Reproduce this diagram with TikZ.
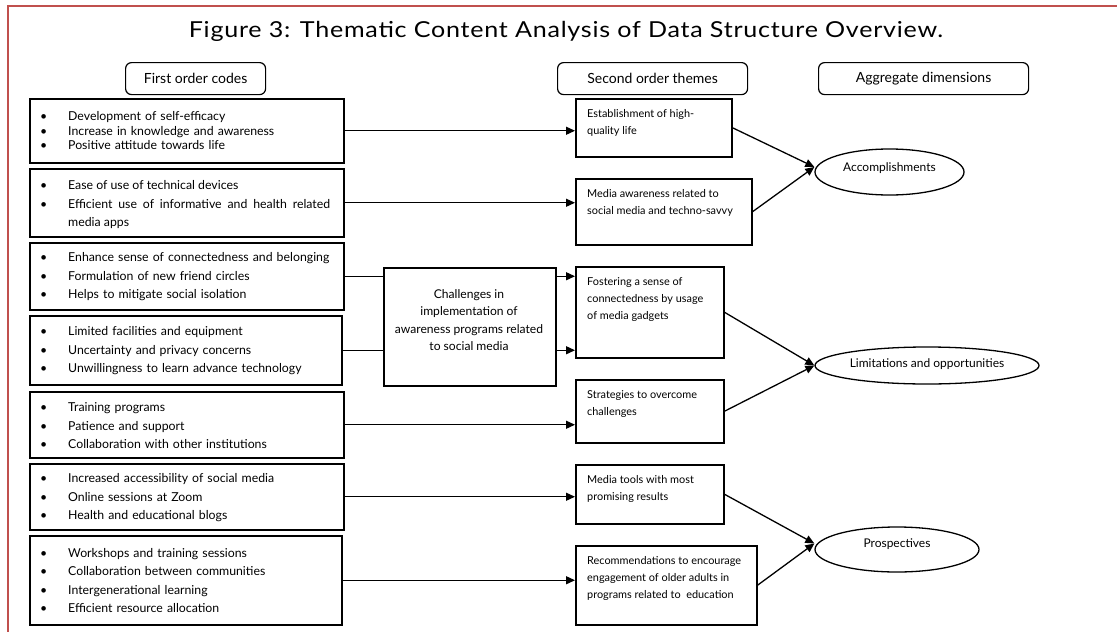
\documentclass[tikz,border=0pt]{standalone}
\usepackage{fontspec}
\setmainfont{Lato}
\usetikzlibrary{arrows.meta,shapes.geometric}
\definecolor{framered}{RGB}{192,80,77}
\newcommand\bul{\leavevmode\llap{\textbullet\hspace{21pt}}}
\begin{document}
\begin{tikzpicture}[x=1pt,y=-1pt,
  box/.style={draw, line width=1.5pt, rectangle, inner sep=0pt, anchor=north west},
  hdr/.style={draw, line width=1.2pt, rounded corners=6pt, inner sep=0pt, anchor=north west, font=\fontsize{14}{16}\selectfont},
  ltext/.style={anchor=west, inner sep=0pt, text width=262pt, align=left, font=\fontsize{12.3}{18.5}\selectfont},
  stext/.style={anchor=north west, inner sep=0pt, align=left, font=\fontsize{10.9}{17}\selectfont},
  ell/.style={draw, ellipse, line width=1.3pt, inner sep=0pt},
  etext/.style={inner sep=0pt, font=\fontsize{12}{14}\selectfont},
  arr/.style={line width=1.3pt, -{Triangle[length=9pt,width=8pt]}},
  conn/.style={line width=1.3pt}]
\useasboundingbox (0,0) rectangle (1117,632);
\draw[framered, line width=1.5pt] (8,632) -- (8,6) -- (1117,6);
\node[inner sep=0pt, anchor=base] (title) at (566,37) {\scalebox{1.14}[1]{\fontsize{22}{24}\selectfont\addfontfeatures{LetterSpace=3}Figure 3: Thematic Content Analysis of Data Structure Overview.}};
% headers
\node[hdr, minimum width=140pt, minimum height=32pt] (h1) at (125,62) {First order codes};
\node[hdr, minimum width=190pt, minimum height=32pt] (h2) at (557,62) {Second order themes};
\node[hdr, minimum width=210pt, minimum height=32pt] (h3) at (818,62) {Aggregate dimensions};
% first order boxes
\node[box, minimum width=314pt, minimum height=64pt] (c1) at (29,98) {};
\node[box, minimum width=314pt, minimum height=68pt] (c2) at (29,168) {};
\node[box, minimum width=314pt, minimum height=67pt] (c3) at (29,242) {};
\node[box, minimum width=312pt, minimum height=69pt] (c4) at (29,315) {};
\node[box, minimum width=314pt, minimum height=66pt] (c5) at (29,391) {};
\node[box, minimum width=314pt, minimum height=66pt] (c6) at (29,463) {};
\node[box, minimum width=312pt, minimum height=89pt] (c7) at (29,535) {};
\node[ltext, font=\fontsize{12.3}{14.5}\selectfont] (c1t) at (68,131) {\bul Development of self-efficacy\\\bul Increase in knowledge and awareness\\\bul Positive attitude towards life};
\node[ltext, align=justify] (c2t) at (68,205) {\bul Ease of use of technical devices\\\bul Efficient use of informative and health related\linebreak media apps};
\node[ltext] (c3t) at (68,277) {\bul Enhance sense of connectedness and belonging\\\bul Formulation of new friend circles\\\bul Helps to mitigate social isolation};
\node[ltext] (c4t) at (68,351) {\bul Limited facilities and equipment\\\bul Uncertainty and privacy concerns\\\bul Unwillingness to learn advance technology};
\node[ltext] (c5t) at (68,426) {\bul Training programs\\\bul Patience and support\\\bul Collaboration with other institutions};
\node[ltext] (c6t) at (68,498) {\bul Increased accessibility of social media\\\bul Online sessions at Zoom\\\bul Health and educational blogs};
\node[ltext] (c7t) at (68,580.5) {\bul Workshops and training sessions\\\bul Collaboration between communities\\\bul Intergenerational learning\\\bul Efficient resource allocation};
% challenges box
\node[box, minimum width=172pt, minimum height=118pt] (ch) at (383,267) {};
\node[inner sep=0pt, align=center, font=\fontsize{12.1}{17.5}\selectfont] (cht) at (469,320) {Challenges in\\implementation of\\awareness programs related\\to social media};
% second order boxes
\node[box, minimum width=156pt, minimum height=58pt] (s1) at (575,98) {};
\node[box, minimum width=176pt, minimum height=66pt] (s2) at (575,178) {};
\node[box, minimum width=148pt, minimum height=91pt] (s3) at (575,266) {};
\node[box, minimum width=148pt, minimum height=63pt] (s4) at (575,379) {};
\node[box, minimum width=148pt, minimum height=59pt] (s5) at (575,464) {};
\node[box, minimum width=181pt, minimum height=79pt] (s6) at (575,545) {};
\node[stext] (s1t) at (587,109) {Establishment of high-\\quality life};
\node[stext] (s2t) at (587,189) {Media awareness related to\\social media and techno-savvy};
\node[stext] (s3t) at (587,277) {Fostering a sense of\\connectedness by usage\\of media gadgets};
\node[stext] (s4t) at (587,390) {Strategies to overcome\\challenges};
\node[stext] (s5t) at (587,475) {Media tools with most\\promising results};
\node[stext] (s6t) at (587,556) {Recommendations to encourage\\engagement of older adults in\\programs related to\ \ education};
% ellipses
\node[ell, minimum width=149pt, minimum height=46pt] (e1) at (889.5,172) {};
\node[ell, minimum width=224pt, minimum height=37pt] (e2) at (927,365.5) {};
\node[ell, minimum width=164pt, minimum height=45pt] (e3) at (897,549.5) {};
\node[etext] (e1t) at (889.5,168) {Accomplishments};
\node[etext] (e2t) at (927,364) {Limitations and opportunities};
\node[etext] (e3t) at (897,544) {Prospectives};
% connectors
\draw[arr] (c1.east) -- (c1.east -| s1.west);
\draw[arr] (c2.east) -- (c2.east -| s2.west);
\draw[conn] (c3.east) -- (c3.east -| ch.west);
\draw[conn] (c4.east) -- (c4.east -| ch.west);
\draw[arr] (ch.east |- c3.east) -- (c3.east -| s3.west);
\draw[arr] (ch.east |- c4.east) -- (c4.east -| s3.west);
\draw[arr] (c5.east) -- (c5.east -| s4.west);
\draw[arr] (c6.east) -- (c6.east -| s5.west);
\draw[arr] (c7.east) -- (c7.east -| s6.west);
\draw[arr] (s1.east) -- ([yshift=5pt]e1.west);
\draw[arr] (s2.east) -- ([yshift=5pt]e1.west);
\draw[arr] (s3.east) -- (e2.west);
\draw[arr] (s4.east) -- (e2.west);
\draw[arr] (s5.east) -- ([yshift=6pt]e3.west);
\draw[arr] (s6.east) -- ([yshift=6pt]e3.west);
\end{tikzpicture}
\end{document}
